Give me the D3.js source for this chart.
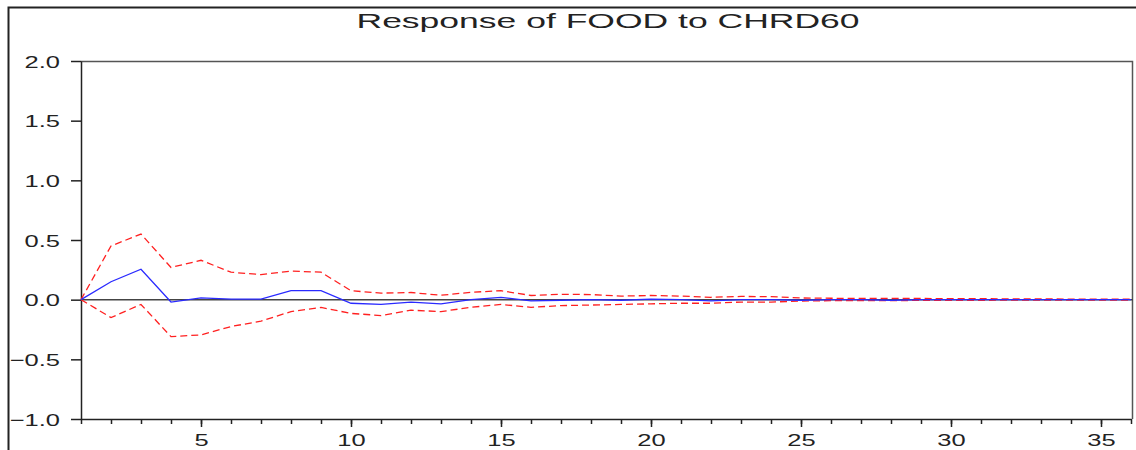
<!DOCTYPE html>
<html>
<head>
<meta charset="utf-8">
<script src="https://cdn.jsdelivr.net/npm/d3@7"></script>
<style>
  body { margin: 0; background: #fff; }
  svg { display: block; }
  text { font-family: "Liberation Sans", Arial, sans-serif; fill: #222; }
</style>
</head>
<body>
<div id="chart"></div>
<script>
// periods 1..36
var periods = d3.range(1, 37);

// impulse response (blue)
var response = [0, 0.15, 0.255, -0.02, 0.015, 0.005, 0.005, 0.075, 0.075, -0.03,
  -0.04, -0.02, -0.035, 0.0, 0.02, -0.01, -0.005, 0.0, -0.005, 0.005,
  0.0, -0.01, 0.0, 0.0, -0.005, 0.0, 0.0, -0.005, 0, 0,
  0, 0, 0, 0, 0, 0];

// +/- 2 s.e. bands (red dashed)
var upper = [0, 0.45, 0.55, 0.27, 0.33, 0.23, 0.21, 0.24, 0.23, 0.075,
  0.055, 0.06, 0.037, 0.062, 0.075, 0.035, 0.045, 0.043, 0.03, 0.035,
  0.03, 0.02, 0.027, 0.025, 0.014, 0.012, 0.01, 0.01, 0.01, 0.008,
  0.008, 0.007, 0.006, 0.005, 0.004, 0.004];
var lower = [0, -0.15, -0.04, -0.31, -0.295, -0.225, -0.18, -0.10, -0.065, -0.115,
  -0.133, -0.088, -0.10, -0.064, -0.04, -0.064, -0.05, -0.045, -0.04, -0.035,
  -0.03, -0.03, -0.02, -0.02, -0.012, -0.008, -0.008, -0.008, -0.006, -0.005,
  -0.005, -0.004, -0.004, -0.003, -0.003, -0.003];

var yTicks = [-1.0, -0.5, 0.0, 0.5, 1.0, 1.5, 2.0];
var xLabelTicks = [5, 10, 15, 20, 25, 30, 35];
var title = "Response of FOOD to CHRD60";

var W = 1136, H = 450;
var margin = {top: 61, right: 3, bottom: 31, left: 81};
var width = W - margin.left - margin.right,
    height = H - margin.top - margin.bottom;
var stretch = 1.5; // source picture is stretched horizontally

var svg = d3.select("#chart").append("svg")
    .attr("width", W)
    .attr("height", H);

// outer frame
svg.append("path")
    .attr("d", "M8.5," + H + "V7.5H" + W)
    .attr("fill", "none")
    .attr("stroke", "#222")
    .attr("stroke-width", 2);

// title
svg.append("text")
    .attr("x", 608)
    .attr("y", 28)
    .attr("text-anchor", "middle")
    .attr("font-size", 21)
    .attr("textLength", 503)
    .attr("lengthAdjust", "spacingAndGlyphs")
    .text(title);

var g = svg.append("g")
    .attr("transform", "translate(" + margin.left + "," + margin.top + ")");

var x = d3.scaleLinear().domain([1, 36]).range([0, width - 2]);
var y = d3.scaleLinear().domain([-1, 2]).range([height, 0]);

// plot frame top/right
g.append("path")
    .attr("d", "M0,0.5H" + (width - 0.5) + "V" + height)
    .attr("fill", "none")
    .attr("stroke", "#555")
    .attr("stroke-width", 1.5);

// y axis
var yAxis = g.append("g")
    .call(d3.axisLeft(y).tickValues(yTicks).tickFormat(d3.format(".1f")).tickSize(10).tickSizeOuter(0));
yAxis.select(".domain").attr("stroke", "#222").attr("stroke-width", 1.5);
yAxis.selectAll(".tick line").attr("stroke", "#222").attr("stroke-width", 1.5);
yAxis.selectAll(".tick text")
    .attr("x", null)
    .attr("dy", null)
    .attr("font-size", 17)
    .attr("text-anchor", "end")
    .attr("transform", "translate(-21,6) scale(" + stretch + ",1)")
    .style("font-family", "'Liberation Sans', Arial, sans-serif")
    .attr("fill", "#222");

// x axis, minor ticks every period
var xAxis = g.append("g")
    .attr("transform", "translate(0," + height + ")")
    .call(d3.axisBottom(x).tickValues(periods).tickFormat("").tickSize(5).tickSizeOuter(0));
xAxis.select(".domain").attr("stroke", "#222").attr("stroke-width", 1.5);
xAxis.selectAll(".tick line").attr("stroke", "#222").attr("stroke-width", 1.5);

var xMajor = g.append("g")
    .attr("transform", "translate(0," + height + ")")
    .call(d3.axisBottom(x).tickValues(xLabelTicks).tickSize(8));
xMajor.select(".domain").remove();
xMajor.selectAll(".tick line").attr("stroke", "#222").attr("stroke-width", 1.5);
xMajor.selectAll(".tick text")
    .attr("y", null)
    .attr("dy", null)
    .attr("font-size", 17)
    .attr("transform", "translate(0,27) scale(" + stretch + ",1)")
    .style("font-family", "'Liberation Sans', Arial, sans-serif")
    .attr("fill", "#222");

// zero line
g.append("line")
    .attr("x1", 0).attr("x2", width)
    .attr("y1", y(0)).attr("y2", y(0))
    .attr("stroke", "#444")
    .attr("stroke-width", 1.5);

var line = d3.line()
    .x(function(d, i) { return x(periods[i]); })
    .y(function(d) { return y(d); });

[upper, lower].forEach(function(band) {
  g.append("path")
      .datum(band)
      .attr("fill", "none")
      .attr("stroke", "#ff2020")
      .attr("stroke-width", 1.3)
      .attr("stroke-dasharray", "7,4")
      .attr("d", line);
});

g.append("path")
    .datum(response)
    .attr("fill", "none")
    .attr("stroke", "#2a2aff")
    .attr("stroke-width", 1.3)
    .attr("d", line);
</script>
</body>
</html>
